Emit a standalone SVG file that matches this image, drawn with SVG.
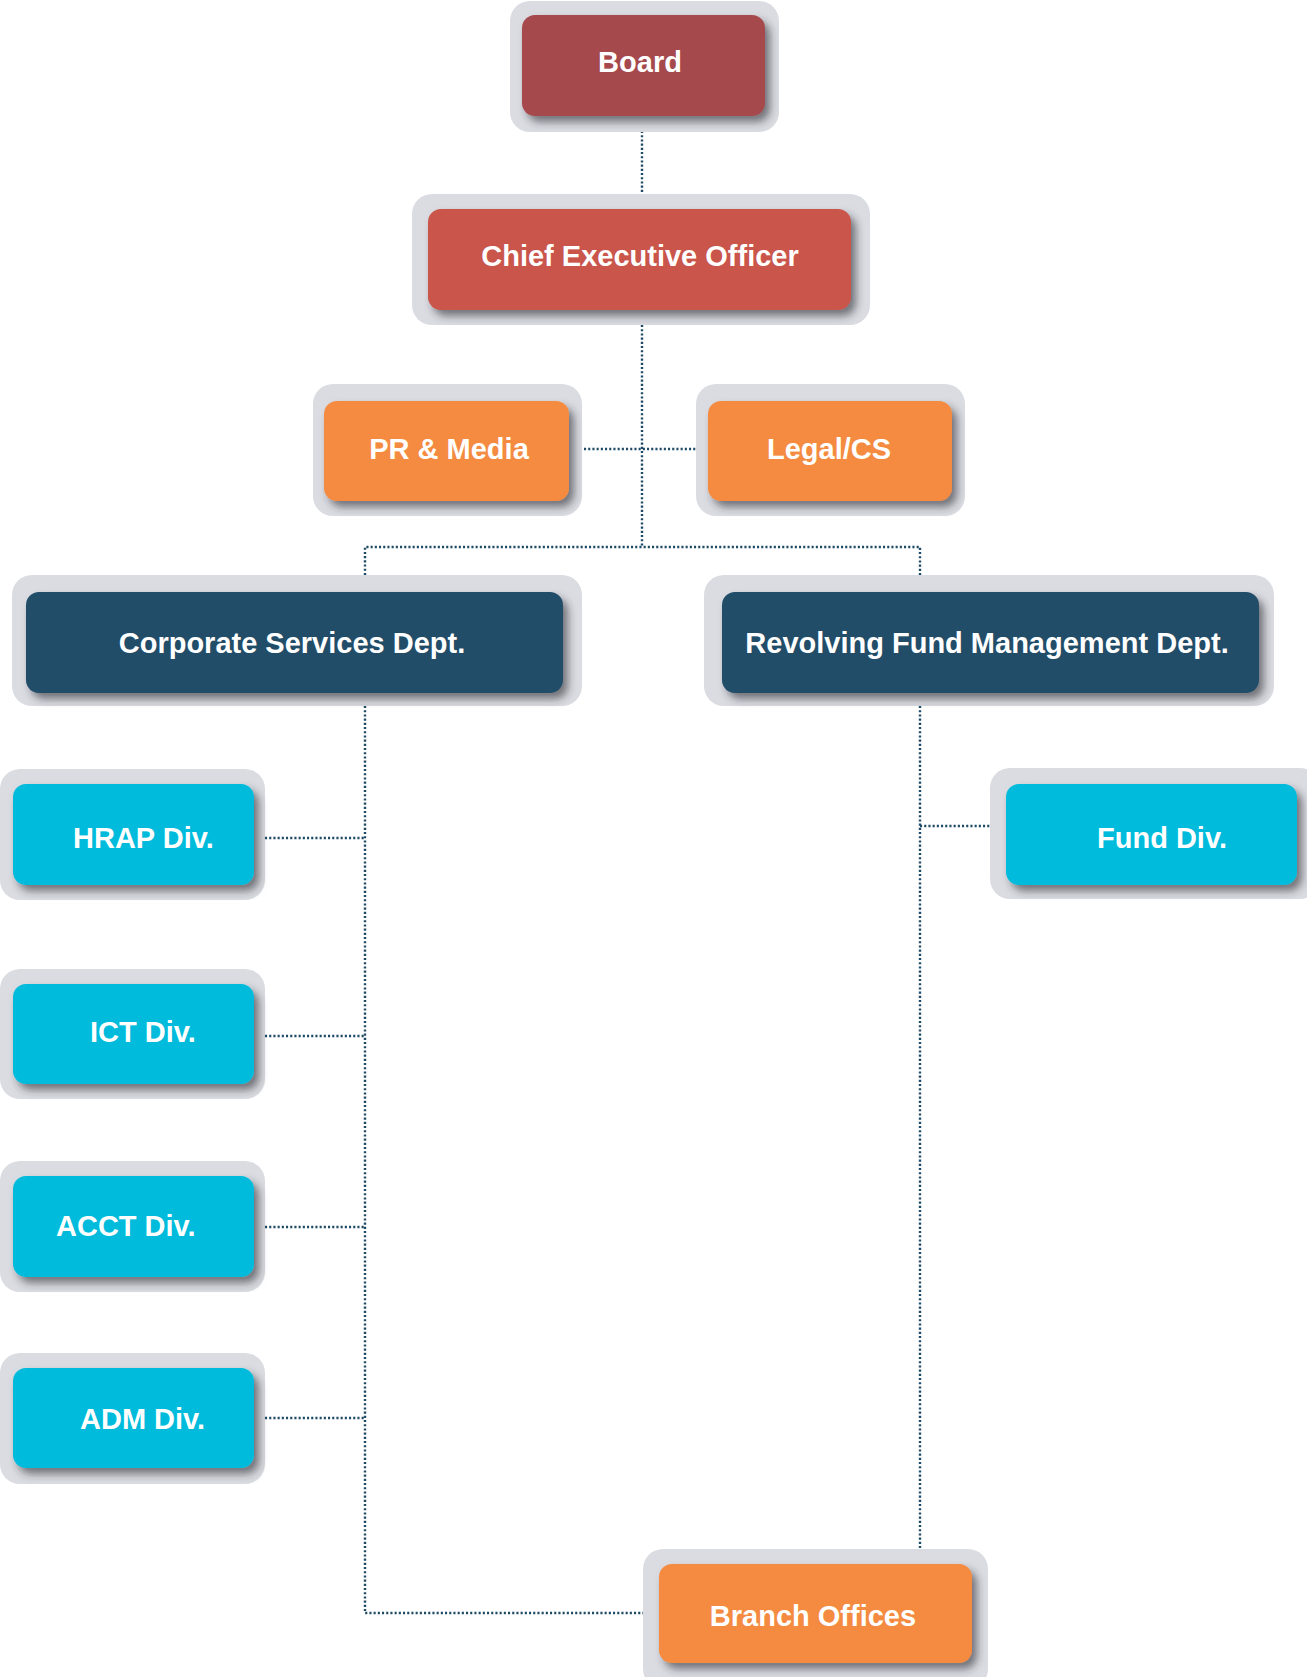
<svg xmlns="http://www.w3.org/2000/svg" width="1307" height="1677" viewBox="0 0 1307 1677">
<defs>
<filter id="sh" x="-10%" y="-20%" width="125%" height="150%">
<feDropShadow dx="5" dy="6" stdDeviation="4.5" flood-color="#2a2a33" flood-opacity="0.6"/>
</filter>
<style>
.frame{fill:#DADCE2}
.box{filter:url(#sh)}
.board{fill:#A54A4D}
.ceo{fill:#C9554B}
.org{fill:#F48B40}
.navy{fill:#204D69}
.cyan{fill:#05BBDB}
.t{font-family:"Liberation Sans",Arial,sans-serif;font-weight:bold;font-size:29px;fill:#FFFFFF}
.c{text-anchor:middle}
.ln{fill:none;stroke:#1E4A66;stroke-width:2.4;stroke-dasharray:2.1 2.1}
</style>
</defs>
<rect width="1307" height="1677" fill="#FFFFFF"/>
<g id="connectors">
<line class="ln" x1="642" y1="131" x2="642" y2="194"/>
<line class="ln" x1="642" y1="325" x2="642" y2="547"/>
<line class="ln" x1="584" y1="449" x2="696" y2="449"/>
<polyline class="ln" points="365,575 365,547 920,547 920,575"/>
<polyline class="ln" points="365,706 365,1613 643,1613"/>
<line class="ln" x1="920" y1="706" x2="920" y2="1549"/>
<line class="ln" x1="265" y1="838" x2="365" y2="838"/>
<line class="ln" x1="265" y1="1036" x2="365" y2="1036"/>
<line class="ln" x1="265" y1="1227" x2="365" y2="1227"/>
<line class="ln" x1="265" y1="1418" x2="365" y2="1418"/>
<line class="ln" x1="920" y1="826" x2="990" y2="826"/>
</g>
<g id="board">
<rect class="frame" x="510" y="1" width="269" height="131" rx="20"/>
<rect class="box board" x="522" y="15" width="243" height="101" rx="13"/>
<text class="t c" x="640" y="72">Board</text>
</g>
<g id="ceo">
<rect class="frame" x="412" y="194" width="458" height="131" rx="20"/>
<rect class="box ceo" x="428" y="209" width="423" height="101" rx="13"/>
<text class="t c" x="640" y="266">Chief Executive Officer</text>
</g>
<g id="pr-media">
<rect class="frame" x="313" y="384" width="269" height="132" rx="20"/>
<rect class="box org" x="324" y="401" width="245" height="100" rx="13"/>
<text class="t c" x="449" y="459">PR &amp; Media</text>
</g>
<g id="legal-cs">
<rect class="frame" x="696" y="384" width="269" height="132" rx="20"/>
<rect class="box org" x="708" y="401" width="244" height="100" rx="13"/>
<text class="t c" x="829" y="459">Legal/CS</text>
</g>
<g id="corporate-services">
<rect class="frame" x="12" y="575" width="570" height="131" rx="20"/>
<rect class="box navy" x="26" y="592" width="537" height="101" rx="13"/>
<text class="t c" x="292" y="653">Corporate Services Dept.</text>
</g>
<g id="revolving-fund">
<rect class="frame" x="704" y="575" width="570" height="131" rx="20"/>
<rect class="box navy" x="722" y="592" width="537" height="101" rx="13"/>
<text class="t c" x="987" y="653">Revolving Fund Management Dept.</text>
</g>
<g id="hrap">
<rect class="frame" x="0" y="769" width="265" height="131" rx="20"/>
<rect class="box cyan" x="13" y="784" width="241" height="101" rx="13"/>
<text class="t" x="73" y="848">HRAP Div.</text>
</g>
<g id="ict">
<rect class="frame" x="0" y="969" width="265" height="130" rx="20"/>
<rect class="box cyan" x="13" y="984" width="241" height="100" rx="13"/>
<text class="t" x="90" y="1042">ICT Div.</text>
</g>
<g id="acct">
<rect class="frame" x="0" y="1161" width="265" height="131" rx="20"/>
<rect class="box cyan" x="13" y="1176" width="241" height="101" rx="13"/>
<text class="t" x="56" y="1236">ACCT Div.</text>
</g>
<g id="adm">
<rect class="frame" x="0" y="1353" width="265" height="131" rx="20"/>
<rect class="box cyan" x="13" y="1368" width="241" height="100" rx="13"/>
<text class="t" x="80" y="1429">ADM Div.</text>
</g>
<g id="fund">
<rect class="frame" x="990" y="768" width="330" height="131" rx="20"/>
<rect class="box cyan" x="1006" y="784" width="291" height="101" rx="13"/>
<text class="t" x="1097" y="848">Fund Div.</text>
</g>
<g id="branch">
<rect class="frame" x="643" y="1549" width="345" height="140" rx="20"/>
<rect class="box org" x="659" y="1564" width="313" height="99" rx="13"/>
<text class="t c" x="813" y="1626">Branch Offices</text>
</g>
</svg>
